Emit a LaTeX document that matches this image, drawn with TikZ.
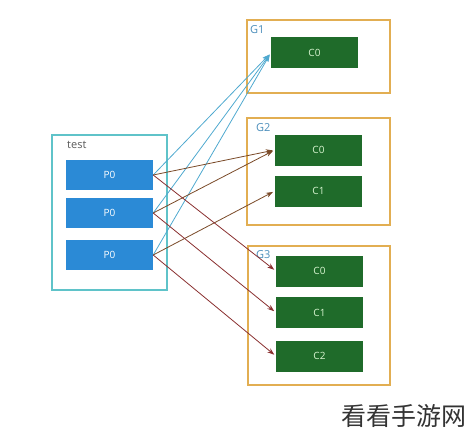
\documentclass[tikz,border=0pt]{standalone}
\usepackage{fontspec}
\setmainfont{Open Sans}
\newfontfamily\cjk{Noto Sans CJK SC}
\usetikzlibrary{arrows.meta}
\definecolor{pblue}{HTML}{2B8AD6}
\definecolor{cgreen}{HTML}{1F6B2A}
\definecolor{ctext}{HTML}{D8F5D0}
\definecolor{tealb}{HTML}{5FC3C9}
\definecolor{orangeb}{HTML}{E2AE52}
\definecolor{glab}{HTML}{4A8DBA}
\definecolor{lblue}{HTML}{4FA9CF}
\definecolor{brownl}{HTML}{7A4A28}
\definecolor{redl}{HTML}{8A3030}
\begin{document}
\begin{tikzpicture}[x=1pt,y=-1pt,
  pbox/.style={fill=pblue,draw=none,minimum width=87pt,minimum height=30pt,text=white,font=\fontsize{10}{11}\selectfont,inner sep=0},
  cbox/.style={fill=cgreen,draw=none,minimum width=87pt,minimum height=31pt,text=ctext,font=\fontsize{10}{11}\selectfont,inner sep=0},
  grp/.style={draw=orangeb,line width=1.4pt,fill=none},
  glabel/.style={text=glab,font=\fontsize{11}{12}\selectfont,inner sep=0,anchor=west},
  ablue/.style={draw=lblue,line width=0.8pt,-{Stealth[length=7pt,width=5pt]},shorten >=2pt},
  abrown/.style={draw=brownl,line width=0.8pt,-{Stealth[length=7pt,width=5pt]},shorten >=2pt},
  ared/.style={draw=redl,line width=0.8pt,-{Stealth[length=7pt,width=5pt]},shorten >=2pt}]
\useasboundingbox (0,0) rectangle (469,436);
% test group
\draw[draw=tealb,line width=1.4pt] (52,135) rectangle (167,290);
\node[text=black!65,font=\fontsize{11}{12}\selectfont,anchor=west,inner sep=0] (tl) at (67,145) {test};
\node[pbox] (p1) at (109.5,175) {P0};
\node[pbox] (p2) at (109.5,213) {P0};
\node[pbox] (p3) at (109.5,255) {P0};
% G1
\draw[grp] (247,20) rectangle (390,93);
\node[glabel] (g1) at (250,30) {G1};
\node[cbox] (a0) at (314.5,53) {C0};
% G2
\draw[grp] (247,118) rectangle (390,225);
\node[glabel] (g2) at (256,128) {G2};
\node[cbox] (b0) at (318.5,150) {C0};
\node[cbox] (b1) at (318.5,191) {C1};
% G3
\draw[grp] (248,246) rectangle (390,385);
\node[glabel] (g3) at (256,255) {G3};
\node[cbox] (c0) at (319.5,271) {C0};
\node[cbox] (c1) at (319.5,312.5) {C1};
\node[cbox] (c2) at (319.5,356) {C2};
% arrows
\draw[ablue] (p1.east) -- (a0.west);
\draw[ablue] (p2.east) -- (a0.west);
\draw[ablue] (p3.east) -- (a0.west);
\draw[abrown] (p1.east) -- (b0.west);
\draw[abrown] (p2.east) -- (b0.west);
\draw[abrown] (p3.east) -- (b1.west);
\draw[ared] (p1.east) -- (c0.west);
\draw[ared] (p2.east) -- (c1.west);
\draw[ared] (p3.east) -- (c2.west);
% watermark
\node[text=black!80,font=\cjk\fontsize{25}{27}\selectfont,anchor=east,inner sep=0] (wm) at (467,416) {看看手游网};
\end{tikzpicture}
\end{document}
